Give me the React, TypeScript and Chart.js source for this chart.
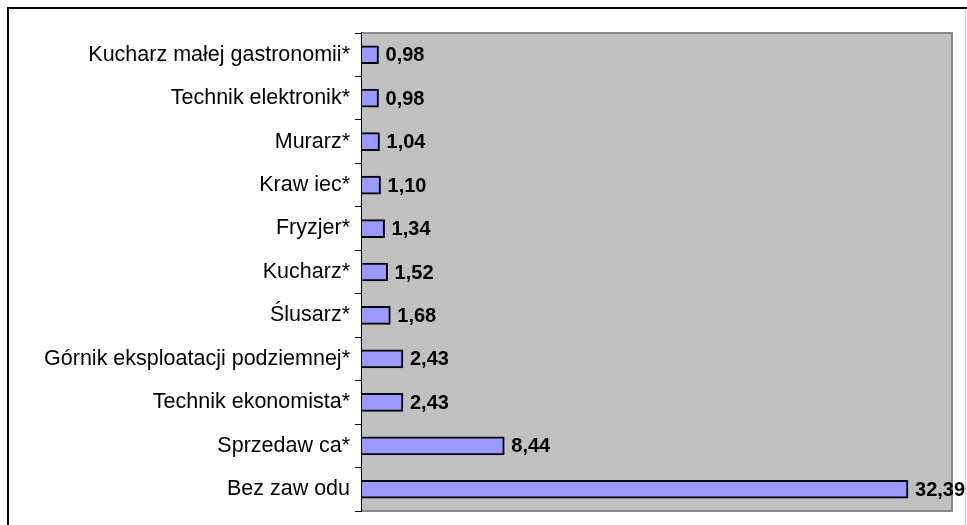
import React, { useEffect, useRef } from "react";
import { Chart, registerables } from "chart.js";

Chart.register(...registerables);

const categories = [
  "Kucharz małej gastronomii*",
  "Technik elektronik*",
  "Murarz*",
  "Kraw iec*",
  "Fryzjer*",
  "Kucharz*",
  "Ślusarz*",
  "Górnik eksploatacji podziemnej*",
  "Technik ekonomista*",
  "Sprzedaw ca*",
  "Bez zaw odu",
];

const values = [0.98, 0.98, 1.04, 1.1, 1.34, 1.52, 1.68, 2.43, 2.43, 8.44, 32.39];

const X_MIN = 0;
const X_MAX = 35;

const plotBg = {
  id: "plotBg",
  beforeDatasetsDraw(chart: any) {
    const { ctx, chartArea: a } = chart;
    ctx.save();
    ctx.fillStyle = "#C0C0C0";
    ctx.fillRect(a.left, a.top, a.right - a.left, a.bottom - a.top);
    ctx.strokeStyle = "#8a8a8a";
    ctx.lineWidth = 2;
    ctx.beginPath();
    ctx.moveTo(a.left, a.top);
    ctx.lineTo(a.right, a.top);
    ctx.lineTo(a.right, a.bottom);
    ctx.lineTo(a.left, a.bottom);
    ctx.stroke();
    ctx.restore();
  },
};

const valueLabels = {
  id: "valueLabels",
  afterDatasetsDraw(chart: any) {
    const { ctx } = chart;
    const meta = chart.getDatasetMeta(0);
    ctx.save();
    ctx.font = "bold 20px 'Liberation Sans', Arial, sans-serif";
    ctx.fillStyle = "#000";
    ctx.textAlign = "left";
    ctx.textBaseline = "middle";
    meta.data.forEach((bar: any, i: number) => {
      const v = values[i];
      ctx.fillText(v.toFixed(2).replace(".", ","), bar.x + 7, bar.y + 1);
    });
    ctx.restore();
  },
};

export default function App() {
  const ref = useRef<HTMLCanvasElement>(null);
  useEffect(() => {
    if (!ref.current) return;
    const chart = new Chart(ref.current, {
      type: "bar",
      data: {
        labels: categories,
        datasets: [
          {
            data: values,
            backgroundColor: "#9999FF",
            borderColor: "#000000",
            borderWidth: 2,
            barThickness: 18,
          },
        ],
      },
      options: {
        indexAxis: "y",
        animation: false,
        responsive: false,
        maintainAspectRatio: false,
        layout: { padding: { top: 33, bottom: 14, right: 15, left: 0 } },
        plugins: { legend: { display: false }, tooltip: { enabled: false } },
        scales: {
          x: { display: false, min: X_MIN, max: X_MAX },
          y: {
            afterFit(scale: any) {
              scale.width = 362;
              scale.paddingTop = 0;
              scale.paddingBottom = 0;
            },
            grid: {
              display: true,
              drawOnChartArea: false,
              drawTicks: true,
              tickLength: 7,
              color: "#000",
              lineWidth: 1,
              offset: true,
            },
            border: { display: true, color: "#000", width: 1.5 },
            ticks: {
              color: "#000",
              padding: 5,
              font: { family: "'Liberation Sans', Arial, sans-serif", size: 21.5 },
            },
          },
        },
      },
      plugins: [plotBg, valueLabels],
    });
    return () => chart.destroy();
  }, []);
  return (
    <div style={{ position: "fixed", left: 0, top: 0, width: 967, height: 525, background: "#fff", overflow: "hidden" }}>
      <div
        style={{
          position: "absolute",
          left: 7,
          top: 7,
          width: 1000,
          height: 600,
          borderTop: "2px solid #000",
          borderLeft: "2px solid #000",
        }}
      />
      <div style={{ position: "absolute", left: 965, top: 9, width: 1, height: 520, background: "#c8c8c8" }} />
      <canvas ref={ref} width={967} height={525} style={{ position: "absolute", left: 0, top: 0 }} />
    </div>
  );
}
